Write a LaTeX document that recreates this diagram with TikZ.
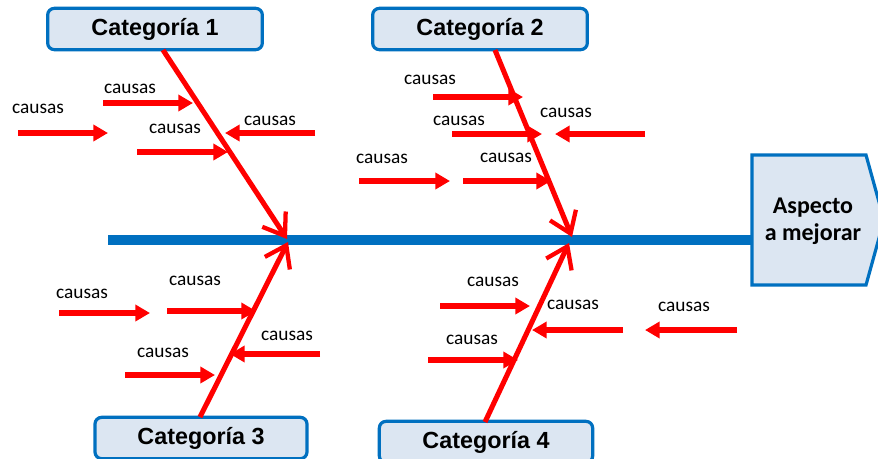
\documentclass[tikz,border=0pt]{standalone}
\usepackage{fontspec}
\setmainfont{Liberation Sans}
\newfontfamily\calibri{Carlito}
\usetikzlibrary{arrows.meta}
\definecolor{spineblue}{RGB}{0,112,192}
\definecolor{boxfill}{RGB}{220,230,242}
\definecolor{causered}{RGB}{255,0,0}
\tikzset{
  catbox/.style={draw=spineblue, line width=2.4pt, fill=boxfill, rounded corners=5pt,
    minimum width=161pt, minimum height=31pt, inner sep=0pt,
    font=\fontsize{17.5}{19}\selectfont\bfseries},
  bone/.style={draw=causered, line width=3.8pt,
    -{Straight Barb[length=15pt,width=21pt,line width=3.2pt]}},
  cause/.style={draw=causered, line width=3.8pt, -{Triangle[length=11pt,width=12pt]}},
  causelabel/.style={font=\calibri\fontsize{14.5}{16}\selectfont, inner sep=0pt},
}
\begin{document}
\begin{tikzpicture}[x=0.75pt,y=-0.75pt]
\useasboundingbox[fill=white] (0,0) rectangle (878,458);

% head of the fish
\draw[draw=spineblue, line width=2.4pt, fill=boxfill]
  (752,155) -- (866,155) -- (884,220) -- (866,285) -- (752,285) -- cycle;
\node[font=\calibri\fontsize{18}{20.5}\selectfont\bfseries, align=center] (head) at (813,221) {Aspecto\\a mejorar};
\coordinate (headL) at (752,240);

% spine
\coordinate (spineL) at (108,240);
\draw[spineblue, line width=7.5pt] (spineL) -- (headL);

% category boxes
\node[catbox] (cat1) at (155,29) {Categoría 1};
\node[catbox] (cat2) at (480,29) {Categoría 2};
\node[catbox, minimum width=159pt] (cat3) at (201,438) {Categoría 3};
\node[catbox, minimum width=160pt] (cat4) at (486,442) {Categoría 4};

% bones
\coordinate (b1s) at (163,50);  \coordinate (b1e) at (287,239);
\coordinate (b2s) at (495,50);  \coordinate (b2e) at (572,237);
\coordinate (b3s) at (200,417); \coordinate (b3e) at (288,242);
\coordinate (b4s) at (485,422); \coordinate (b4e) at (569,243);
\draw[bone] (b1s) -- (b1e);
\draw[bone] (b2s) -- (b2e);
\draw[bone] (b3s) -- (b3e);
\draw[bone] (b4s) -- (b4e);

% causes: label position, arrow start, arrow end
\foreach \n/\lx/\ly/\ax/\ay/\bx/\by in {
  c1/38/109/18/133/108/133,
  c2/130/89/103/103/193/103,
  c3/175/129/137/152/228/152,
  c4/270/121/315/133/225/133,
  c5/430/80/433/97/523/97,
  c6/459/121/452/134/542/134,
  c7/566/113/645/134/555/134,
  c8/382/159/359/181/450/181,
  c9/506/158/463/181/551/181,
  c10/82/294/59/313/150/313,
  c11/195/281/167/311/256/311,
  c12/287/336/320/354/230/354,
  c13/163/353/125/375/215/375,
  c14/493/282/440/306/530/306,
  c15/573/305/623/330/532/330,
  c16/684/307/737/330/645/330,
  c17/472/340/428/360/518/360}{
  \node[causelabel] (\n) at (\lx,\ly) {causas};
  \coordinate (\n s) at (\ax,\ay);
  \coordinate (\n e) at (\bx,\by);
  \draw[cause] (\n s) -- (\n e);
}
\end{tikzpicture}
\end{document}
